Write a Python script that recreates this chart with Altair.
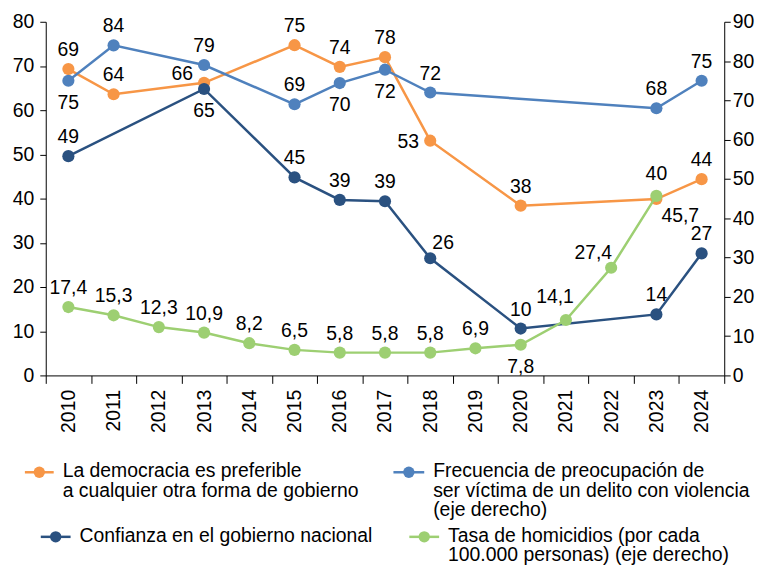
import altair as alt
import pandas as pd

years = list(range(2010, 2025))

series_names = [
    "La democracia es preferible a cualquier otra forma de gobierno",
    "Confianza en el gobierno nacional",
    "Frecuencia de preocupación de ser víctima de un delito con violencia (eje derecho)",
    "Tasa de homicidios (por cada 100.000 personas) (eje derecho)",
]
series_colors = ["#F79646", "#2A5180", "#4F81BD", "#9DCF72"]

# Left axis series
democracia = [69.3, 63.6, None, 66.2, None, 74.7, 69.8, 72.0, 53.1, None, 38.4, None, None, 39.9, 44.4]
democracia_lbl = ["69", "64", None, "66", None, "75", "74", "78", "53", None, "38", None, None, "40", "44"]
democracia_pos = ["n", "n", None, "nw", None, "n", "n", "n", "w", None, "n", None, None, "nn", "n"]

confianza = [49.6, None, None, 64.8, None, 44.8, 39.7, 39.4, 26.5, None, 10.6, None, None, 13.8, 27.6]
confianza_lbl = ["49", None, None, "65", None, "45", "39", "39", "26", None, "10", None, None, "14", "27"]
confianza_pos = ["n", None, None, "s", None, "n", "n", "n", "ne", None, "n", None, None, "n", "n"]

# Right axis series
frecuencia = [75, 84, None, 79, None, 69, 74.4, 77.8, 72, None, None, None, None, 68, 75]
frecuencia_lbl = ["75", "84", None, "79", None, "69", "70", "72", "72", None, None, None, None, "68", "75"]
frecuencia_pos = ["s", "n", None, "n", None, "n", "s", "s", "n", None, None, None, None, "n", "n"]

homicidios = [17.4, 15.3, 12.3, 10.9, 8.2, 6.5, 5.8, 5.8, 5.8, 6.9, 7.8, 14.1, 27.4, 45.7, None]
homicidios_lbl = ["17,4", "15,3", "12,3", "10,9", "8,2", "6,5", "5,8", "5,8", "5,8", "6,9", "7,8", "14,1", "27,4", "45,7", None]
homicidios_pos = ["n", "n", "n", "n", "n", "n", "n", "n", "n", "n", "s", "nnw", "wnw", "se", None]

# label nudges (dx, dy) in pixels
nudges = {
    "n": (0, -13), "nn": (0, -19), "s": (0, 28), "w": (-22, 7), "nw": (-22, -3),
    "nnw": (-11, -17), "wnw": (-18, -9), "se": (24, 26), "ne": (13, -9),
}

FONT = "Liberation Sans, Arial, sans-serif"
FS = 19.5


def frame(name, vals, lbls, pos):
    rows = []
    for y, v, l, p in zip(years, vals, lbls, pos):
        if v is not None:
            rows.append({"year": y, "value": v, "label": l, "pos": p, "series": name})
    return pd.DataFrame(rows)


left_df = pd.concat([
    frame(series_names[0], democracia, democracia_lbl, democracia_pos),
    frame(series_names[1], confianza, confianza_lbl, confianza_pos),
])
right_df = pd.concat([
    frame(series_names[2], frecuencia, frecuencia_lbl, frecuencia_pos),
    frame(series_names[3], homicidios, homicidios_lbl, homicidios_pos),
])

x_enc = alt.X(
    "year:O",
    scale=alt.Scale(type="band", paddingInner=0, paddingOuter=0),
    bandPosition=0.5,
    axis=alt.Axis(title=None, labelAngle=270, tickBand="extent", tickSize=8,
                  labelPadding=6, grid=False),
)
color_enc = alt.Color("series:N", scale=alt.Scale(domain=series_names, range=series_colors), legend=None)


def build(df, domain, orient, tick_values, label_pad):
    y_enc = alt.Y("value:Q", scale=alt.Scale(domain=domain, nice=False, zero=True),
                  axis=alt.Axis(title=None, orient=orient, values=tick_values, grid=False,
                                tickSize=6, labelPadding=label_pad))
    base = alt.Chart(df).encode(x=x_enc, y=y_enc, color=color_enc)
    lines = base.mark_line(strokeWidth=2.5).encode(detail="series:N")
    points = base.mark_circle(size=150, opacity=1)
    layers = [lines, points]
    for code, (dx, dy) in nudges.items():
        layers.append(
            base.mark_text(dx=dx, dy=dy, font=FONT, fontSize=FS, color="#000", baseline="alphabetic")
            .encode(text="label:N", color=alt.value("#000"))
            .transform_filter(alt.datum.pos == code)
        )
    return alt.layer(*layers)


left = build(left_df, [0, 80], "left", list(range(0, 81, 10)), 6)
right = build(right_df, [0, 90], "right", list(range(0, 91, 10)), 2)

# Legend (drawn below the plot)
legend_items = [
    # (series index, rule x1, rule x2, y, text x, text)
    (0, -21, 8, 453.5, 17, "La democracia es preferible\na cualquier otra forma de gobierno"),
    (1, -5, 25, 518.5, 34, "Confianza en el gobierno nacional"),
    (2, 350, 381, 453.5, 390, "Frecuencia de preocupación de\nser víctima de un delito con violencia\n(eje derecho)"),
    (3, 366, 396, 518.5, 405, "Tasa de homicidios (por cada\n100.000 personas) (eje derecho)"),
]
dummy = pd.DataFrame({"k": [0]})
legend_layers = []
for idx, x1, x2, yy, tx, txt in legend_items:
    col = series_colors[idx]
    legend_layers.append(alt.Chart(dummy).mark_rule(color=col, strokeWidth=2.5).encode(
        x=alt.value(x1), x2=alt.value(x2), y=alt.value(yy)))
    legend_layers.append(alt.Chart(dummy).mark_circle(color=col, size=130, opacity=1).encode(
        x=alt.value((x1 + x2) / 2), y=alt.value(yy)))
    legend_layers.append(alt.Chart(dummy).mark_text(
        text=txt, lineBreak="\n", align="left", baseline="alphabetic", font=FONT, fontSize=FS,
        lineHeight=19.5, color="#000").encode(x=alt.value(tx), y=alt.value(yy + 5)))

chart = alt.layer(left, right, *legend_layers).resolve_scale(y="independent").properties(
    width=683, height=356, padding={"left": 4, "top": 2, "right": 5, "bottom": 0}
).configure_view(stroke=None).configure_axis(
    domainColor="#000", tickColor="#000", labelColor="#000", labelFont=FONT, labelFontSize=FS,
    domainWidth=1, tickWidth=1
)

chart.save("out.html", embed_options={"renderer": "svg", "actions": False})
